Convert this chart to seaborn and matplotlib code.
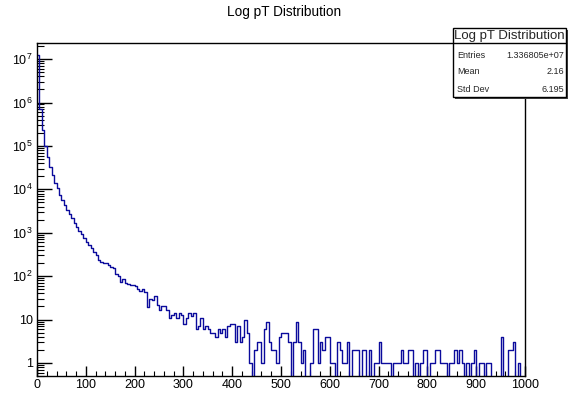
import numpy as np
import pandas as pd
import matplotlib
matplotlib.use("Agg")
import matplotlib.pyplot as plt
import seaborn as sns
from matplotlib.ticker import FixedLocator, FixedFormatter, LogLocator, MultipleLocator, NullFormatter
from matplotlib.patches import Rectangle
from matplotlib.lines import Line2D

# ---------------- data ----------------
title = "Log pT Distribution"
x_min, x_max, n_bins = 0, 1000, 200

counts_000_049 = [
    12200000, 710000, 234000, 100000, 56000, 33000, 21400, 14000, 10700, 7400,
    5700, 4400, 3400, 2700, 2200, 1700, 1370, 1120, 930, 750,
    620, 520, 440, 365, 310, 235, 215, 205, 198, 180,
    166, 152, 112, 101, 75, 86, 69, 65, 63, 63,
    59, 50, 46, 50, 44, 19, 29, 28, 34, 22,
]
counts_050_099 = [
    17, 20, 20, 17, 11, 13, 14, 11, 14, 13,
    8, 11, 14, 12, 14, 6, 7, 11, 6, 7,
    6, 5, 5, 4, 6, 5, 6, 4, 7, 8,
    8, 3, 7, 3, 4, 10, 5, 1, 0, 2,
    3, 3, 1, 6, 9, 3, 2, 2, 1, 4,
]
counts_100_149 = [
    5, 5, 5, 3, 0, 3, 9, 3, 1, 2,
    0, 0, 1, 6, 6, 1, 3, 2, 4, 4,
    1, 1, 0, 3, 2, 1, 1, 3, 0, 2,
    2, 2, 0, 2, 2, 0, 2, 0, 1, 1,
    3, 1, 1, 1, 1, 0, 1, 1, 1, 2,
]
counts_150_199 = [
    1, 1, 2, 2, 0, 1, 0, 1, 2, 2,
    0, 1, 1, 2, 2, 1, 1, 1, 0, 1,
    1, 2, 1, 2, 1, 0, 1, 0, 1, 2,
    0, 1, 1, 0, 1, 1, 0, 0, 0, 0,
    4, 0, 0, 2, 2, 3, 0, 1, 0, 0,
]

stats_labels = ["Entries", "Mean", "Std Dev"]
stats_values = ["1.336805e+07", "2.16", "6.195"]

x_ticks = [0, 100, 200, 300, 400, 500, 600, 700, 800, 900, 1000]
y_ticks = [1, 10, 1e2, 1e3, 1e4, 1e5, 1e6, 1e7]
y_tick_labels = ["1", "10", r"10$^{2}$", r"10$^{3}$", r"10$^{4}$",
                 r"10$^{5}$", r"10$^{6}$", r"10$^{7}$"]
y_range = (0.5, 2.35e7)

# ---------------- style ----------------
sns.set_theme(style="ticks")
plt.rcParams["font.family"] = ["Liberation Sans", "DejaVu Sans"]
plt.rcParams["mathtext.fontset"] = "custom"
plt.rcParams["mathtext.rm"] = "Liberation Sans"
plt.rcParams["mathtext.it"] = "Liberation Sans:italic"
plt.rcParams["mathtext.bf"] = "Liberation Sans:bold"

counts = np.array(counts_000_049 + counts_050_099 + counts_100_149 + counts_150_199, dtype=float)
edges = np.linspace(x_min, x_max, n_bins + 1)
centers = 0.5 * (edges[:-1] + edges[1:])
df = pd.DataFrame({"pT": centers, "n": counts})

W, H = 568, 393
fig = plt.figure(figsize=(W / 100, H / 100), dpi=100)
fig.patch.set_facecolor("white")
ax = fig.add_axes([37 / W, (H - 376) / H, 488 / W, 333 / H])
ax.set_facecolor("white")

sns.histplot(data=df, x="pT", weights="n", bins=n_bins, binrange=(x_min, x_max),
             element="step", fill=False, color="#0b0b9c", linewidth=1.0, ax=ax)
ax.set_yscale("log", nonpositive="clip")
ax.set_xlim(x_min, x_max)
ax.set_ylim(*y_range)
ax.set_xlabel("")
ax.set_ylabel("")
ax.grid(False)

ax.xaxis.set_major_locator(FixedLocator(x_ticks))
ax.xaxis.set_major_formatter(FixedFormatter([str(t) for t in x_ticks]))
ax.xaxis.set_minor_locator(MultipleLocator(20))
ax.yaxis.set_major_locator(FixedLocator(y_ticks))
ax.yaxis.set_major_formatter(FixedFormatter(y_tick_labels))
ax.yaxis.set_minor_locator(LogLocator(base=10, subs=np.arange(2, 10), numticks=60))
ax.yaxis.set_minor_formatter(NullFormatter())

ax.tick_params(axis="both", which="both", direction="in", top=False, right=False,
               color="black", labelcolor="black", labelsize=9)
ax.tick_params(axis="y", which="major", length=10.5, width=1.0, pad=3)
ax.tick_params(axis="y", which="minor", length=5.3, width=0.8)
ax.tick_params(axis="x", which="major", length=7.2, width=1.0, pad=2)
ax.tick_params(axis="x", which="minor", length=3.6, width=0.8)
for sp in ax.spines.values():
    sp.set_color("black")
    sp.set_linewidth(1.0)

# title
fig.text(0.5, 1 - 12 / H, title, ha="center", va="center", fontsize=9.8, color="black")

# stats box
bx0, bx1 = 453 / W, 566 / W
by_top, by_sep, by_bot = 1 - 28 / H, 1 - 43 / H, 1 - 97 / H
shadow = Rectangle((bx0 + 2 / W, by_bot - 2 / H), bx1 - bx0, by_top - by_bot,
                   transform=fig.transFigure, facecolor="#444444", edgecolor="none", zorder=10)
box = Rectangle((bx0, by_bot), bx1 - bx0, by_top - by_bot, transform=fig.transFigure,
                facecolor="white", edgecolor="black", linewidth=1.0, zorder=11)
fig.add_artist(shadow)
fig.add_artist(box)
fig.add_artist(Line2D([bx0, bx1], [by_sep, by_sep], transform=fig.transFigure,
                      color="black", linewidth=1.0, zorder=12))
fig.text((bx0 + bx1) / 2, (by_top + by_sep) / 2, title, ha="center", va="center",
         fontsize=9.5, zorder=13)
row_y = [56, 72, 89]
for lab, val, yy in zip(stats_labels, stats_values, row_y):
    fig.text(bx0 + 4 / W, 1 - yy / H, lab, ha="left", va="center", fontsize=6.5, zorder=13)
    fig.text(bx1 - 2 / W, 1 - yy / H, val, ha="right", va="center", fontsize=6.5, zorder=13)

fig.savefig("out.png", dpi=100, facecolor="white")
